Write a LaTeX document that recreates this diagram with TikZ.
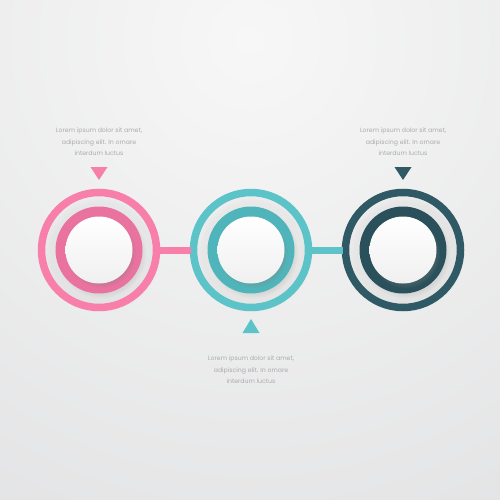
\documentclass[tikz,border=0pt]{standalone}
\usepackage{fontspec}
\setmainfont{Poppins}
\usetikzlibrary{calc, shadows}
\definecolor{bgtop}{HTML}{F7F7F7}
\definecolor{bgbot}{HTML}{D6D7D9}
\definecolor{rosa}{HTML}{F77FAA}
\definecolor{rosadark}{HTML}{EA729F}
\definecolor{aqua}{HTML}{5CC3C8}
\definecolor{aquadark}{HTML}{50B5BA}
\definecolor{petrol}{HTML}{2F5964}
\definecolor{petroldark}{HTML}{2A515B}
\definecolor{blurbgray}{HTML}{ABABAD}
\tikzset{
	ring/.style={circle, draw=#1, line width=7.5pt, minimum size=115pt, inner sep=0pt,
		circular drop shadow={shadow xshift=2pt, shadow yshift=-3pt, shadow scale=1.03, opacity=0.08}},
	core/.style={circle, fill=#1, minimum size=87pt, inner sep=0pt,
		circular drop shadow={shadow xshift=2pt, shadow yshift=-3pt, shadow scale=1.04, opacity=0.18}},
	face/.style={circle, minimum size=67pt, inner sep=0pt, top color=white, bottom color=black!6,
		circular drop shadow={shadow xshift=2pt, shadow yshift=-3pt, shadow scale=1.05, opacity=0.3}},
	blurb/.style={align=center, text=blurbgray, font=\fontsize{6.2}{11.6}\selectfont},
	link/.style={line width=7pt, shorten <=-1pt, shorten >=-1pt}
}
\begin{document}
\begin{tikzpicture}[x=1pt, y=-1pt]
		\useasboundingbox (0,0) rectangle (500,500);
		\begin{scope}
			\clip (0,0) rectangle (500,500);
			\shade[inner color=bgtop, outer color=bgbot] (250,40) circle (900pt);
		\end{scope}

		\node[ring=rosa] (s1) at (99,250) {};
		\node[ring=aqua] (s2) at (251,250) {};
		\node[ring=petrol] (s3) at (403,250) {};

		\draw[link, rosa] (s1.east) -- (s2.west);
		\draw[link, aqua] (s2.east) -- (s3.west);

		\node[core=rosadark] (k1) at (s1) {};
		\node[core=aquadark] (k2) at (s2) {};
		\node[core=petroldark] (k3) at (s3) {};

		\node[face] (f1) at (s1) {};
		\node[face] (f2) at (s2) {};
		\node[face] (f3) at (s3) {};

		\fill[rosa] ($(s1)+(-8.5,-83)$) -- ++(17,0) -- ++(-8.5,13) -- cycle;
		\fill[aqua] ($(s2)+(-8.5,83)$) -- ++(17,0) -- ++(-8.5,-14) -- cycle;
		\fill[petrol] ($(s3)+(-8.5,-83)$) -- ++(17,0) -- ++(-8.5,13) -- cycle;

		\node[blurb] (t1) at (99,142) {Lorem ipsum dolor sit amet,\\adipiscing elit. In ornare\\interdum luctus};
		\node[blurb] (t2) at (251,370) {Lorem ipsum dolor sit amet,\\adipiscing elit. In ornare\\interdum luctus};
		\node[blurb] (t3) at (403,142) {Lorem ipsum dolor sit amet,\\adipiscing elit. In ornare\\interdum luctus};
	\end{tikzpicture}
\end{document}
